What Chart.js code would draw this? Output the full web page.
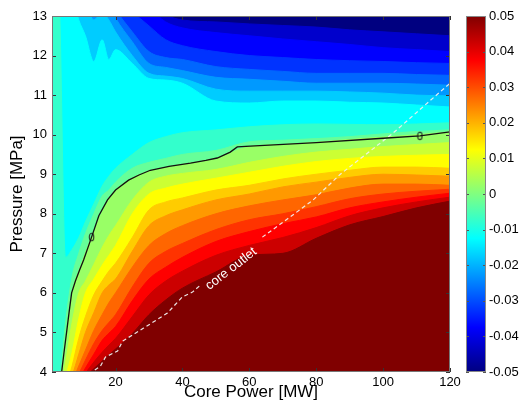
<!DOCTYPE html>
<html lang="en">
  <head>
    <meta charset="UTF-8" />
    <title>Pressure vs core power</title>
    <script src="https://cdn.jsdelivr.net/npm/chart.js@4.4.0/dist/chart.umd.min.js"></script>
    <style>
      html, body { margin: 0; padding: 0; background: #fff; }
      #wrap { position: relative; width: 525px; height: 409px; }
      #mainChart { position: absolute; left: 0; top: 0; }
      #barChart { position: absolute; left: 450px; top: 0; }
    </style>
  </head>
  <body>
    <div id="wrap">
      <canvas id="mainChart" width="525" height="409"></canvas>
      <canvas id="barChart" width="75" height="409"></canvas>
    </div>
    <script>
      // contour levels (value of the field) and where each level sits
      const levels = [-0.045, -0.04, -0.035, -0.03, -0.025, -0.02, -0.015, -0.01, -0.005, 0, 0.005, 0.01, 0.015, 0.02, 0.025, 0.03, 0.035, 0.04, 0.045];
      const powerGrid = [1, 3, 5, 7, 9, 11, 13.5, 16, 18, 20, 25, 30, 35, 40, 50, 60, 70, 80, 90, 100, 110, 120];
      // pressure of each level line at powerGrid (region below the line is >= level)
      const levelPressure = [
        [13.5, 13.5, 13.5, 13.5, 13.5, 13.5, 13.5, 13.5, 13.5, 13.5, 13.5, 13.5, 13.05, 12.9, 12.85, 12.8, 12.76, 12.72, 12.65, 12.6, 12.55, 12.5],
        [13.5, 13.5, 13.5, 13.5, 13.5, 13.5, 13.5, 13.5, 13.5, 13.5, 13.5, 13.2, 12.85, 12.7, 12.58, 12.5, 12.42, 12.35, 12.28, 12.2, 12.15, 12.1],
        [13.5, 13.5, 13.5, 13.5, 13.5, 13.5, 13.5, 13.5, 13.5, 13.4, 13.1, 12.75, 12.4, 12.25, 12.1, 12.0, 11.95, 11.9, 11.87, 11.85, 11.82, 11.8],
        [13.5, 13.5, 13.5, 13.5, 13.5, 13.5, 13.5, 13.5, 13.4, 13.15, 12.6, 12.1, 11.95, 11.9, 11.72, 11.65, 11.6, 11.55, 11.55, 11.55, 11.52, 11.5],
        [13.5, 13.5, 13.5, 13.5, 13.5, 13.5, 13.5, 13.5, 13.3, 12.95, 12.35, 11.8, 11.7, 11.62, 11.45, 11.4, 11.35, 11.3, 11.3, 11.3, 11.28, 11.25],
        [13.5, 13.5, 13.5, 13.5, 13.5, 13.3, 12.9, 13.1, 12.9, 12.6, 12.0, 11.55, 11.48, 11.42, 11.15, 11.1, 11.1, 11.1, 11.08, 11.05, 11.0, 10.98],
        [13.5, 13.5, 13.5, 13.5, 12.9, 12.5, 11.85, 12.4, 11.9, 12.15, 11.8, 11.42, 11.38, 11.3, 10.85, 10.8, 10.85, 10.85, 10.82, 10.8, 10.75, 10.7],
        [13.5, 13.5, 6.9, 7.1, 7.4, 7.8, 8.25, 8.7, 8.95, 9.15, 9.5, 9.8, 9.95, 10.05, 10.12, 10.2, 10.25, 10.27, 10.26, 10.25, 10.27, 10.3],
        [3.0, 3.4, 5.2, 6.4, 7.0, 7.5, 8.0, 8.45, 8.6, 8.8, 9.15, 9.3, 9.4, 9.5, 9.6, 9.82, 9.86, 9.9, 9.95, 10.02, 10.08, 10.12],
        [3.0, 3.4, 4.73, 6.02, 6.55, 7.02, 7.55, 8.05, 8.38, 8.6, 8.9, 9.08, 9.17, 9.25, 9.4, 9.7, 9.75, 9.81, 9.88, 9.94, 10.0, 10.07],
        [3.0, 3.3, 4.2, 5.25, 6.0, 6.3, 6.72, 7.15, 7.45, 7.7, 8.35, 8.8, 8.95, 9.02, 9.12, 9.3, 9.45, 9.56, 9.63, 9.7, 9.75, 9.8],
        [3.0, 3.2, 3.85, 4.5, 5.35, 6.0, 6.35, 6.7, 6.95, 7.2, 8.0, 8.5, 8.65, 8.75, 8.9, 9.05, 9.2, 9.32, 9.4, 9.45, 9.48, 9.5],
        [3.0, 3.1, 3.6, 4.15, 4.85, 5.4, 5.95, 6.3, 6.55, 6.75, 7.4, 8.1, 8.3, 8.4, 8.6, 8.72, 8.88, 9.0, 9.1, 9.18, 9.18, 9.15],
        [3.0, 3.05, 3.5, 3.9, 4.45, 5.0, 5.5, 6.0, 6.2, 6.35, 7.05, 7.7, 7.95, 8.1, 8.35, 8.5, 8.68, 8.8, 8.92, 9.0, 8.98, 8.95],
        [3.0, 3.0, 3.4, 3.75, 4.15, 4.55, 5.05, 5.45, 5.75, 6.0, 6.65, 7.2, 7.5, 7.7, 8.0, 8.2, 8.35, 8.48, 8.65, 8.75, 8.75, 8.72],
        [3.0, 3.0, 3.35, 3.65, 3.95, 4.3, 4.72, 5.05, 5.25, 5.45, 6.15, 6.75, 7.05, 7.25, 7.6, 7.85, 8.0, 8.18, 8.38, 8.5, 8.57, 8.62],
        [3.0, 3.0, 3.3, 3.55, 3.8, 4.1, 4.45, 4.8, 4.98, 5.15, 5.8, 6.35, 6.65, 6.9, 7.3, 7.55, 7.75, 7.92, 8.15, 8.3, 8.42, 8.52],
        [3.0, 3.0, 3.25, 3.5, 3.75, 3.97, 4.25, 4.5, 4.68, 4.85, 5.4, 5.95, 6.3, 6.55, 6.95, 7.2, 7.4, 7.65, 7.95, 8.15, 8.3, 8.42],
        [3.0, 3.0, 3.2, 3.45, 3.7, 3.88, 4.08, 4.28, 4.43, 4.58, 4.97, 5.45, 5.82, 6.12, 6.53, 6.95, 7.0, 7.38, 7.72, 7.93, 8.15, 8.32],
      ];

      // black zero contour
      const zeroPower = [3.88, 4.6, 5.37, 6.1, 6.87, 8.0, 9.25, 10.45, 12.84, 15.0, 17.6, 20.0, 23.9, 27.0, 30.4, 36.0, 42.4, 47.0, 50.4, 54.3, 56.4, 60.3, 80.0, 100.0, 111.0, 120.0];
      const zeroPressure = [4.0, 4.5, 5.01, 5.5, 6.0, 6.3, 6.58, 6.83, 7.41, 7.95, 8.35, 8.6, 8.85, 8.98, 9.1, 9.2, 9.28, 9.35, 9.41, 9.56, 9.69, 9.71, 9.8, 9.91, 9.97, 10.07];
      const ringPower = [12.84, 111.0];
      const ringPressure = [7.41, 9.97];

      // white dashed "core outlet" line, split where its label sits
      const outletLowPower = [13.8, 15.5, 17.0, 20.6, 22.1, 28.4, 35.5, 40.0, 43.0, 45.4];
      const outletLowPressure = [4.05, 4.15, 4.38, 4.53, 4.78, 5.11, 5.49, 5.9, 6.02, 6.2];
      const outletHighPower = [63.9, 69.3, 79.1, 87.2, 102.7, 120.0];
      const outletHighPressure = [7.41, 7.74, 8.35, 9.0, 10.02, 11.3];
      const outletLabel = "core outlet";

      const xTicks = [20, 40, 60, 80, 100, 120];
      const yTicks = [4, 5, 6, 7, 8, 9, 10, 11, 12, 13];
      const barTicks = [-0.05, -0.04, -0.03, -0.02, -0.01, 0, 0.01, 0.02, 0.03, 0.04, 0.05];

      const FONT = '"Liberation Sans", Arial, Helvetica, sans-serif';
      Chart.defaults.font.family = FONT;
      Chart.defaults.color = "#000";

      // matlab jet colormap on [-0.05, 0.05]
      function jet(v) {
        const t = (v + 0.05) / 0.1;
        const c = (d) => Math.round(255 * Math.max(0, Math.min(1, 1.5 - Math.abs(4 * t - d))));
        return `rgb(${c(3)}, ${c(2)}, ${c(1)})`;
      }
      function bandColor(k) {
        if (k === levels.length - 1) return jet(0.05);
        return jet(levels[k] + 0.0025);
      }

      const ring = document.createElement("canvas");
      ring.width = 7;
      ring.height = 10;
      const rc = ring.getContext("2d");
      rc.strokeStyle = "#222";
      rc.lineWidth = 1.1;
      rc.beginPath();
      rc.ellipse(3.5, 5, 2.2, 3.7, 0, 0, Math.PI * 2);
      rc.stroke();

      const datasets = [];
      datasets.push({
        data: zeroPower.map((x, i) => ({ x: x, y: zeroPressure[i] })),
        showLine: true, borderColor: "#111", borderWidth: 1.3, pointRadius: 0, fill: false, order: 0,
      });
      datasets.push({
        data: ringPower.map((x, i) => ({ x: x, y: ringPressure[i] })),
        showLine: false, pointStyle: ring, pointRadius: 4, order: 0,
      });
      datasets.push({
        data: outletLowPower.map((x, i) => ({ x: x, y: outletLowPressure[i] })),
        showLine: true, borderColor: "rgba(240,240,240,0.95)", borderWidth: 1.2, borderDash: [4, 3], pointRadius: 0, fill: false, order: 1,
      });
      datasets.push({
        data: outletHighPower.map((x, i) => ({ x: x, y: outletHighPressure[i] })),
        showLine: true, borderColor: "rgba(240,240,240,0.95)", borderWidth: 1.2, borderDash: [4, 3], pointRadius: 0, fill: false, order: 1,
      });
      levels.forEach(function (lv, k) {
        datasets.push({
          data: powerGrid.map((x, j) => ({ x: x, y: levelPressure[k][j] })),
          showLine: true,
          cubicInterpolationMode: "monotone",
          fill: "start",
          backgroundColor: bandColor(k),
          borderColor: bandColor(k),
          borderWidth: 1,
          pointRadius: 0,
          order: 10 + levels.length - k,
        });
      });

      const framePlugin = {
        id: "frame",
        beforeDraw(chart) {
          const a = chart.chartArea;
          const ctx = chart.ctx;
          ctx.save();
          ctx.fillStyle = jet(-0.05);
          ctx.fillRect(a.left, a.top, a.right - a.left, a.bottom - a.top);
          ctx.restore();
        },
        afterDatasetsDraw(chart) {
          const ctx = chart.ctx;
          const xs = chart.scales.x;
          const ys = chart.scales.y;
          const n1 = outletLowPower.length - 1;
          const x1 = xs.getPixelForValue(outletLowPower[n1]);
          const y1 = ys.getPixelForValue(outletLowPressure[n1]);
          const x2 = xs.getPixelForValue(outletHighPower[0]);
          const y2 = ys.getPixelForValue(outletHighPressure[0]);
          ctx.save();
          ctx.translate((x1 + x2) / 2, (y1 + y2) / 2);
          ctx.rotate(Math.atan2(y2 - y1, x2 - x1));
          ctx.font = "13px " + FONT;
          ctx.fillStyle = "#fff";
          ctx.textAlign = "center";
          ctx.textBaseline = "middle";
          ctx.fillText(outletLabel, -5, 6);
          ctx.restore();
        },
        afterDraw(chart) {
          const a = chart.chartArea;
          const ctx = chart.ctx;
          const xs = chart.scales.x;
          const ys = chart.scales.y;
          ctx.save();
          ctx.strokeStyle = "#333";
          ctx.lineWidth = 1;
          ctx.beginPath();
          xTicks.forEach(function (v) {
            const px = Math.round(xs.getPixelForValue(v)) + 0.5;
            ctx.moveTo(px, a.bottom); ctx.lineTo(px, a.bottom - 4);
            ctx.moveTo(px, a.top); ctx.lineTo(px, a.top + 4);
          });
          yTicks.forEach(function (v) {
            const py = Math.round(ys.getPixelForValue(v)) + 0.5;
            ctx.moveTo(a.left, py); ctx.lineTo(a.left + 4, py);
            ctx.moveTo(a.right, py); ctx.lineTo(a.right - 4, py);
          });
          ctx.stroke();
          ctx.strokeStyle = "#777";
          ctx.strokeRect(a.left + 0.5, a.top + 0.5, a.right - a.left - 1, a.bottom - a.top - 1);
          ctx.restore();
        },
      };

      new Chart(document.getElementById("mainChart"), {
        type: "scatter",
        data: { datasets: datasets },
        options: {
          responsive: false,
          animation: false,
          events: [],
          layout: { padding: { left: 0, right: 75, top: 16, bottom: 0 } },
          plugins: { legend: { display: false }, tooltip: { enabled: false } },
          scales: {
            x: {
              type: "linear",
              min: 1,
              max: 120,
              afterBuildTicks: (s) => { s.ticks = xTicks.map((v) => ({ value: v })); },
              afterFit: (s) => { s.height = 37; },
              grid: { display: false, drawTicks: false },
              border: { display: false },
              ticks: { color: "#000", font: { size: 13 }, padding: 3, maxRotation: 0 },
              title: { display: true, text: "Core Power [MW]", color: "#000", font: { size: 17 }, padding: { top: 0, bottom: 6 } },
            },
            y: {
              type: "linear",
              min: 4,
              max: 13,
              afterBuildTicks: (s) => { s.ticks = yTicks.map((v) => ({ value: v })); },
              afterFit: (s) => { s.width = 52; },
              grid: { display: false, drawTicks: false },
              border: { display: false },
              ticks: { color: "#000", font: { size: 13 }, padding: 5 },
              title: { display: true, text: "Pressure [MPa]", color: "#000", font: { size: 17 }, padding: { top: 7, bottom: 0 } },
            },
          },
        },
        plugins: [framePlugin],
      });

      // colour bar
      const barFrame = {
        id: "barFrame",
        afterDraw(chart) {
          const a = chart.chartArea;
          const ctx = chart.ctx;
          const ys = chart.scales.y;
          ctx.save();
          ctx.strokeStyle = "#555";
          ctx.lineWidth = 1;
          ctx.beginPath();
          barTicks.forEach(function (v) {
            const py = Math.round(ys.getPixelForValue(v)) + 0.5;
            ctx.moveTo(a.left, py); ctx.lineTo(a.left + 3, py);
            ctx.moveTo(a.right, py); ctx.lineTo(a.right - 3, py);
          });
          ctx.stroke();
          ctx.strokeStyle = "#888";
          ctx.strokeRect(a.left + 0.5, a.top + 0.5, a.right - a.left - 1, a.bottom - a.top - 1);
          ctx.restore();
        },
      };

      new Chart(document.getElementById("barChart"), {
        type: "bar",
        data: {
          labels: [""],
          datasets: [
            {
              data: [[barTicks[0], barTicks[barTicks.length - 1]]],
              backgroundColor: function (context) {
                const a = context.chart.chartArea;
                if (!a) return jet(0);
                const g = context.chart.ctx.createLinearGradient(0, a.bottom, 0, a.top);
                for (let i = 0; i <= 8; i++) g.addColorStop(i / 8, jet(-0.05 + i * 0.0125));
                return g;
              },
              barPercentage: 1,
              categoryPercentage: 1,
              borderWidth: 0,
            },
          ],
        },
        options: {
          responsive: false,
          animation: false,
          events: [],
          layout: { padding: { left: 16, right: 0, top: 16, bottom: 37 } },
          plugins: { legend: { display: false }, tooltip: { enabled: false } },
          scales: {
            x: { display: false },
            y: {
              position: "right",
              min: barTicks[0],
              max: barTicks[barTicks.length - 1],
              afterBuildTicks: (s) => { s.ticks = barTicks.map((v) => ({ value: v })); },
              afterFit: (s) => { s.width = 39; },
              grid: { display: false, drawTicks: false },
              border: { display: false },
              ticks: {
                color: "#000",
                font: { size: 13 },
                padding: 3,
                callback: (v) => (Math.abs(v) < 1e-9 ? "0" : v.toFixed(2)),
              },
            },
          },
        },
        plugins: [barFrame],
      });
    </script>
  </body>
</html>
